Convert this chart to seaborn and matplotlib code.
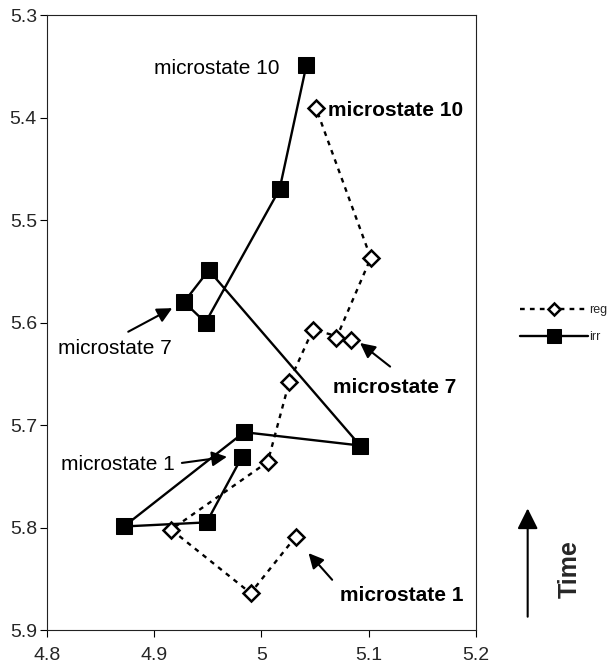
import matplotlib
matplotlib.use('Agg')
import matplotlib.pyplot as plt
import seaborn as sns
import pandas as pd

# ---- data ----
microstates = list(range(1, 11))
reg_x = [5.032, 4.990, 4.916, 5.006, 5.026, 5.048, 5.084, 5.070, 5.102, 5.051]
reg_y = [5.809, 5.864, 5.802, 5.736, 5.658, 5.607, 5.617, 5.615, 5.537, 5.391]
irr_x = [4.982, 4.949, 4.872, 4.984, 5.092, 4.951, 4.928, 4.948, 5.017, 5.042]
irr_y = [5.731, 5.795, 5.799, 5.707, 5.720, 5.549, 5.580, 5.600, 5.470, 5.349]

x_ticks = [4.8, 4.9, 5.0, 5.1, 5.2]
x_tick_labels = ['4.8', '4.9', '5', '5.1', '5.2']
y_ticks = [5.3, 5.4, 5.5, 5.6, 5.7, 5.8, 5.9]
y_tick_labels = ['5.3', '5.4', '5.5', '5.6', '5.7', '5.8', '5.9']

series_names = ['reg', 'irr']

df_reg = pd.DataFrame({'microstate': microstates, 'x': reg_x, 'y': reg_y, 'series': 'reg'})
df_irr = pd.DataFrame({'microstate': microstates, 'x': irr_x, 'y': irr_y, 'series': 'irr'})

sns.set_style('ticks')
plt.rcParams['font.family'] = ['Liberation Sans', 'DejaVu Sans']

fig = plt.figure(figsize=(6.14, 6.64), dpi=100)
ax = fig.add_axes([0.076, 0.0512, 0.6992, 0.9262])

sns.lineplot(data=df_irr, x='x', y='y', sort=False, estimator=None, ax=ax,
             color='black', lw=1.7, marker='s', markersize=12,
             markerfacecolor='black', markeredgecolor='black',
             label='irr', zorder=2)
sns.lineplot(data=df_reg, x='x', y='y', sort=False, estimator=None, ax=ax,
             color='black', lw=1.7, linestyle=(0, (2, 2.2)), marker='D', markersize=8,
             markerfacecolor='white', markeredgecolor='black', markeredgewidth=1.8,
             label='reg', zorder=3)

handles, labels = ax.get_legend_handles_labels()
hmap = dict(zip(labels, handles))
if ax.get_legend() is not None:
    ax.get_legend().remove()

ax.set_xlim(4.8, 5.2)
ax.set_ylim(5.9, 5.3)
ax.set_xticks(x_ticks)
ax.set_xticklabels(x_tick_labels)
ax.set_yticks(y_ticks)
ax.set_yticklabels(y_tick_labels)
ax.set_xlabel('')
ax.set_ylabel('')
ax.tick_params(axis='both', labelsize=14, length=5, width=0.8, color='black', direction='out')
ax.tick_params(axis='y', pad=2)
ax.tick_params(axis='x', pad=7.5)
for s in ax.spines.values():
    s.set_visible(True)
    s.set_linewidth(0.8)
    s.set_color('#222222')

# ---- annotations ----
txt_kw = dict(fontsize=15, color='black')
ax.text(5.017, 5.352, 'microstate 10', ha='right', va='center', **txt_kw)
ax.text(5.062, 5.393, 'microstate 10', ha='left', va='center', fontweight='bold', **txt_kw)
ax.text(4.864, 5.625, 'microstate 7', ha='center', va='center', **txt_kw)
ax.text(4.866, 5.739, 'microstate 1', ha='center', va='center', **txt_kw)
ax.text(5.124, 5.663, 'microstate 7', ha='center', va='center', fontweight='bold', **txt_kw)
ax.text(5.131, 5.866, 'microstate 1', ha='center', va='center', fontweight='bold', **txt_kw)

arrow_kw = dict(arrowstyle='-|>,head_length=0.6,head_width=0.3', lw=1.5, color='black',
                mutation_scale=15, shrinkA=0, shrinkB=0)
arrows = [((4.876, 5.609), (4.917, 5.586)),
          ((4.926, 5.737), (4.968, 5.731)),
          ((5.120, 5.643), (5.092, 5.620)),
          ((5.066, 5.851), (5.044, 5.825))]
for tail, head in arrows:
    ax.annotate('', xy=head, xytext=tail, arrowprops=arrow_kw)

# ---- legend ----
fig.legend(handles=[hmap['reg'], hmap['irr']], labels=series_names,
           loc='upper left', bbox_to_anchor=(0.847, 0.542), frameon=False,
           fontsize=9, handlelength=5.4, handletextpad=0.1, labelspacing=1.2,
           borderpad=0, borderaxespad=0, markerscale=0.8)

# ---- time arrow ----
ax.annotate('', xy=(0.8594, 0.2343), xytext=(0.8594, 0.0712),
            xycoords='figure fraction', textcoords='figure fraction',
            annotation_clip=False,
            arrowprops=dict(arrowstyle='-|>,head_length=0.5,head_width=0.25', lw=1.5,
                            color='black', mutation_scale=25, shrinkA=0, shrinkB=0))
fig.text(0.928, 0.143, 'Time', rotation=90, fontsize=18, fontweight='bold',
         ha='center', va='center')

fig.savefig('out.png', dpi=100)
